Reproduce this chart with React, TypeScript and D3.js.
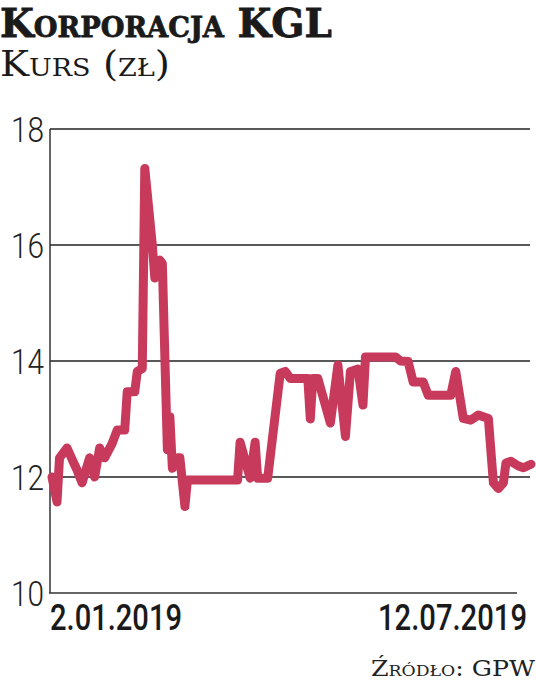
import React from "react";
import * as d3 from "d3";

const dates: string[] = [
  "2019-01-02","2019-01-04","2019-01-05","2019-01-08","2019-01-11","2019-01-12","2019-01-14","2019-01-17",
  "2019-01-19","2019-01-21","2019-01-23","2019-01-26","2019-01-28","2019-01-31","2019-02-01","2019-02-04",
  "2019-02-05","2019-02-07","2019-02-08","2019-02-11","2019-02-12","2019-02-14","2019-02-15","2019-02-17",
  "2019-02-18","2019-02-19","2019-02-21","2019-02-22","2019-02-24","2019-02-25","2019-03-17","2019-03-18",
  "2019-03-22","2019-03-24","2019-03-25","2019-03-29","2019-04-03","2019-04-05","2019-04-07","2019-04-14",
  "2019-04-15","2019-04-16","2019-04-18","2019-04-23","2019-04-26","2019-04-29","2019-05-01","2019-05-04",
  "2019-05-06","2019-05-07","2019-05-19","2019-05-21","2019-05-24","2019-05-26","2019-05-30","2019-06-01",
  "2019-06-10","2019-06-12","2019-06-15","2019-06-18","2019-06-21","2019-06-25","2019-06-27","2019-06-29",
  "2019-07-01","2019-07-02","2019-07-04","2019-07-07","2019-07-09","2019-07-12",
];
const prices: number[] = [
  12.0, 11.57, 12.33, 12.5, 12.21, 12.12, 11.9, 12.33,
  12.0, 12.5, 12.33, 12.58, 12.81, 12.81, 13.47, 13.47,
  13.82, 13.87, 17.32, 16.0, 15.43, 15.74, 15.68, 12.47,
  13.04, 12.15, 12.33, 12.33, 11.49, 11.95, 11.95, 12.6,
  11.98, 12.6, 11.98, 11.98, 13.79, 13.82, 13.7, 13.7,
  13.0, 13.7, 13.7, 12.93, 13.93, 12.7, 13.82, 13.86,
  13.24, 14.07, 14.07, 14.0, 13.99, 13.64, 13.64, 13.41,
  13.41, 13.82, 13.01, 12.98, 13.07, 13.01, 11.9, 11.8,
  11.9, 12.24, 12.27, 12.19, 12.16, 12.22,
];
const yTicks: number[] = [10, 12, 14, 16, 18];
const xLabels: string[] = ["2.01.2019", "12.07.2019"];
const title = "Korporacja KGL";
const subtitle = "Kurs (zł)";
const source = "Źródło: GPW";

export default function App() {
  const W = 536, H = 688;
  const parse = d3.timeParse("%Y-%m-%d");
  const data = dates.map((d, i) => ({ date: parse(d) as Date, v: prices[i] }));
  const x = d3.scaleTime()
    .domain([parse("2019-01-02") as Date, parse("2019-07-12") as Date])
    .range([52, 531]);
  const y = d3.scaleLinear().domain([10, 18]).range([593, 129]);
  const line = d3.line<{ date: Date; v: number }>()
    .x(d => x(d.date))
    .y(d => y(d.v))
    .curve(d3.curveLinear);
  const serif = "'DejaVu Serif', 'Liberation Serif', serif";
  const cond = "Roboto, 'DejaVu Sans', sans-serif";
  return (
    <svg width={W} height={H} style={{ position: "absolute", left: 0, top: 0, background: "#fff" }}>
      <text x={0} y={37} fontFamily={serif} fontWeight="bold" fontSize={40}
        style={{ fontVariant: "small-caps" }} fill="#1a1a1a" stroke="#1a1a1a" strokeWidth={0.8}
        textLength={332} lengthAdjust="spacingAndGlyphs">{title}</text>
      <text x={0} y={76} fontFamily={serif} fontSize={36}
        style={{ fontVariant: "small-caps" }} fill="#1a1a1a" textLength={170} lengthAdjust="spacingAndGlyphs">{subtitle}</text>
      {yTicks.filter(t => t !== 10).map(t => (
        <line key={"g" + t} x1={50} x2={530} y1={y(t)} y2={y(t)} stroke="#222" strokeWidth={1.5} />
      ))}
      <line x1={50} x2={50} y1={y(18)} y2={y(10)} stroke="#333" strokeWidth={1.5} />
      <line x1={49} x2={517} y1={y(10)} y2={y(10)} stroke="#333" strokeWidth={1.5} />
      {yTicks.map(t => (
        <text key={"t" + t} x={44} y={y(t)} dy="0.36em" textAnchor="end"
          fontFamily={cond} fontWeight={300} fontSize={35} fill="#222" textLength={33} lengthAdjust="spacingAndGlyphs">{t}</text>
      ))}
      <path d={line(data) || ""} fill="none" stroke="#c73a5c" strokeWidth={9}
        strokeLinejoin="round" strokeLinecap="round" />
      <text x={50} y={630} fontFamily={cond} fontWeight={500} fontSize={37} fill="#1a1a1a"
        textLength={132} lengthAdjust="spacingAndGlyphs">{xLabels[0]}</text>
      <text x={527} y={630} textAnchor="end" fontFamily={cond} fontWeight={500} fontSize={37} fill="#1a1a1a"
        textLength={149} lengthAdjust="spacingAndGlyphs">{xLabels[1]}</text>
      <text x={535} y={676} textAnchor="end" fontFamily={serif} fontSize={22}
        style={{ fontVariant: "small-caps" }} fill="#222" textLength={164} lengthAdjust="spacingAndGlyphs">{source}</text>
    </svg>
  );
}
